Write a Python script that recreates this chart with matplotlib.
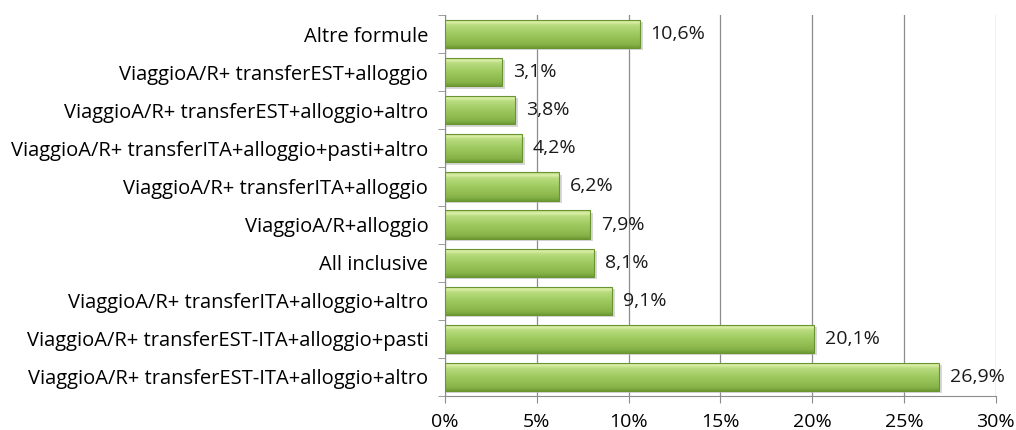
import numpy as np
import matplotlib.pyplot as plt
from matplotlib.colors import LinearSegmentedColormap

plt.rcParams['font.family'] = ['Open Sans', 'DejaVu Sans']

categorie = [
    "ViaggioA/R+ transferEST-ITA+alloggio+altro",
    "ViaggioA/R+ transferEST-ITA+alloggio+pasti",
    "ViaggioA/R+ transferITA+alloggio+altro",
    "All inclusive",
    "ViaggioA/R+alloggio",
    "ViaggioA/R+ transferITA+alloggio",
    "ViaggioA/R+ transferITA+alloggio+pasti+altro",
    "ViaggioA/R+ transferEST+alloggio+altro",
    "ViaggioA/R+ transferEST+alloggio",
    "Altre formule",
]
valori = [26.9, 20.1, 9.1, 8.1, 7.9, 6.2, 4.2, 3.8, 3.1, 10.6]
etichette = ["26,9%", "20,1%", "9,1%", "8,1%", "7,9%", "6,2%", "4,2%", "3,8%", "3,1%", "10,6%"]
xticks = [0, 5, 10, 15, 20, 25, 30]

fig, ax = plt.subplots(figsize=(10.16, 4.3), dpi=100)
fig.subplots_adjust(left=0.438, right=0.980, top=0.965, bottom=0.079)

y = np.arange(len(categorie))
h = 0.74

# gradiente verde: scuro in basso, chiaro in alto
cmap = LinearSegmentedColormap.from_list("verde", [
    (0.0, "#6e9b34"), (0.12, "#86b348"), (0.55, "#a3cd64"),
    (0.8, "#b9dc80"), (0.9, "#dcefa8"), (1.0, "#b6d67a")])
grad = np.linspace(0, 1, 64).reshape(-1, 1)

ax.set_xlim(0, 30)
ax.set_ylim(-0.5, len(categorie) - 0.5)

for yi, v in zip(y, valori):
    # ombra
    ax.barh(yi - 0.06, v + 0.12, height=h, left=0.05, color="#bfbfbf", alpha=0.6, zorder=2)
    bar = ax.barh(yi, v, height=h, color="none", edgecolor="#6a9332", linewidth=0.8, zorder=4)[0]
    im = ax.imshow(grad, cmap=cmap, aspect="auto", origin="lower",
                   extent=(0, v, yi - h / 2, yi + h / 2), zorder=3)
    im.set_clip_path(bar)

for yi, v, t in zip(y, valori, etichette):
    ax.text(v + 0.6, yi, t, va="center", ha="left", fontsize=14, color="#1a1a1a", zorder=5)

ax.set_yticks(y)
ax.set_yticklabels(categorie, fontsize=14.5)
ax.set_xticks(xticks)
ax.set_xticklabels([f"{t}%" for t in xticks], fontsize=14)
ax.xaxis.grid(True, color="#8c8c8c", linewidth=0.9)
ax.set_axisbelow(True)
ax.set_yticks(np.arange(-0.5, len(categorie)), minor=True)
ax.tick_params(axis="y", which="major", length=0, pad=12)
ax.tick_params(axis="y", which="minor", length=5, color="#8c8c8c")
ax.tick_params(axis="x", length=5, color="#8c8c8c", pad=7)
for s in ["top", "right"]:
    ax.spines[s].set_visible(False)
ax.spines["left"].set_color("#8c8c8c")
ax.spines["bottom"].set_color("#8c8c8c")

fig.savefig("out.png", dpi=100)
